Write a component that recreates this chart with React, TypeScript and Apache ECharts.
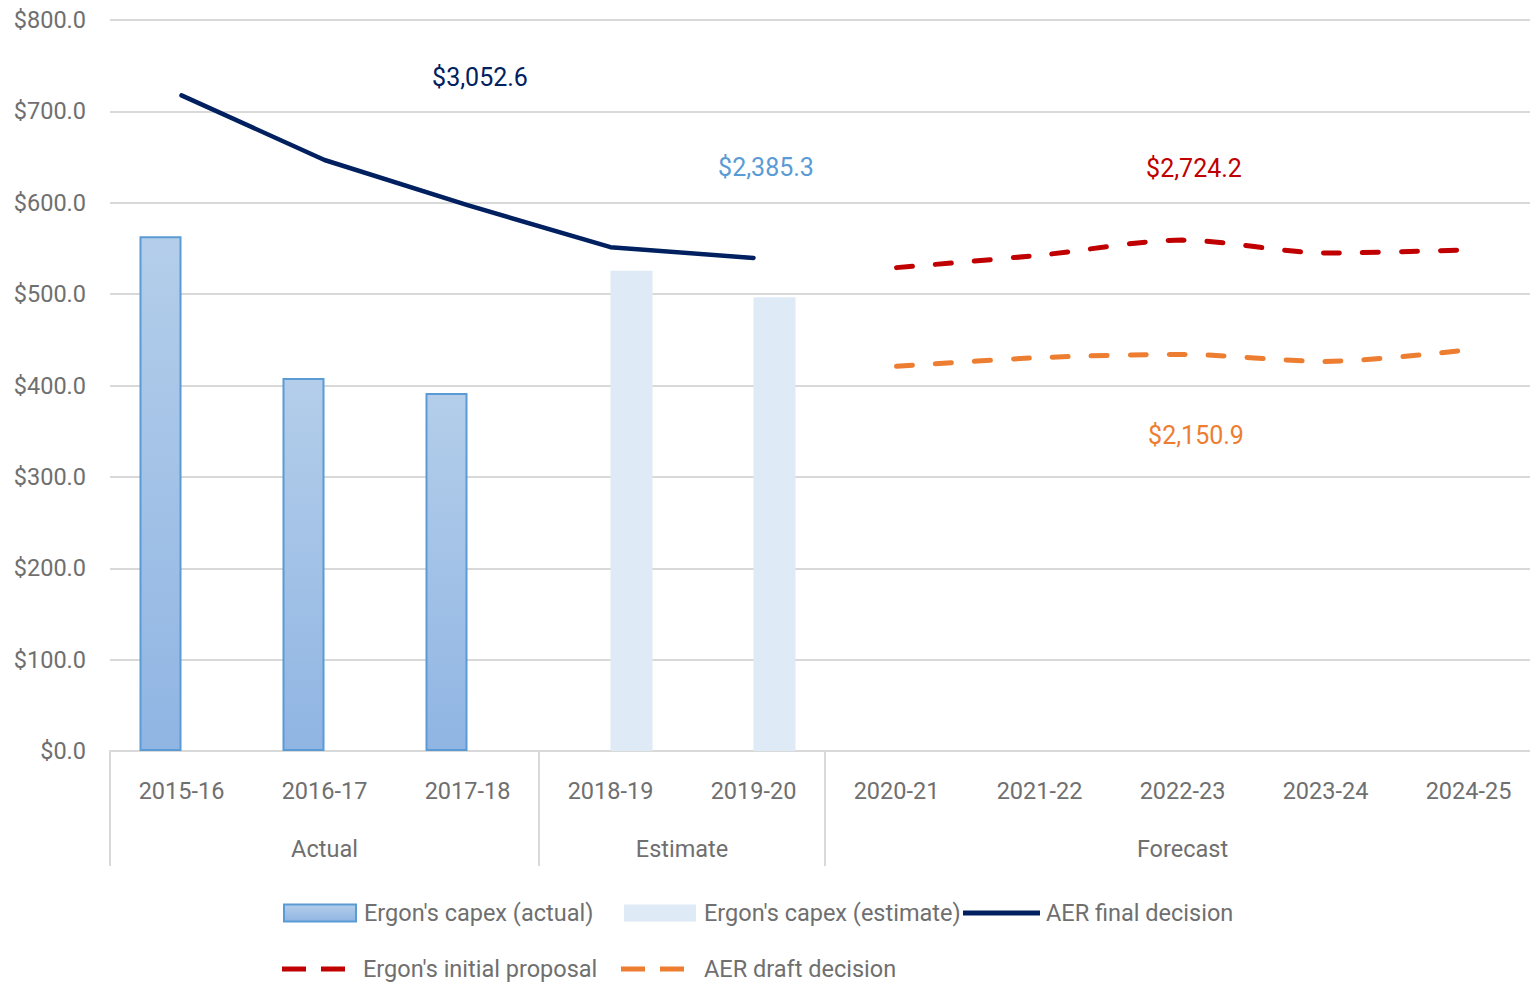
import React, { useEffect, useRef } from "react";
import * as echarts from "echarts";

const years = ["2015-16", "2016-17", "2017-18", "2018-19", "2019-20", "2020-21", "2021-22", "2022-23", "2023-24", "2024-25"];
const groupLabels: Record<string, string> = { "1.5": "Actual", "4": "Estimate", "7.5": "Forecast" };
const groupBoundaries = [0, 3, 5];
const capexActual = [563.3, 408.2, 391.7, null, null, null, null, null, null, null];
const capexEstimate = [null, null, null, 525.5, 496.6, null, null, null, null, null];
const aerFinal = [717.5, 646.8, 597.3, 551.4, 539.6, null, null, null, null, null];
const initialProposal = [null, null, null, null, null, 529.0, 542.6, 559.1, 545.0, 548.5];
const aerDraft = [null, null, null, null, null, 421.0, 430.5, 434.0, 426.4, 439.0];
const totals = { final: "$3,052.6", capex: "$2,385.3", initial: "$2,724.2", draft: "$2,150.9" };

const FONT = "Roboto, 'Noto Sans', sans-serif";
const FS = 23.5;
const GRAY = "#6f6f6f";
const GRID = "#D9D9D9";
const NAVY = "#002060";
const RED = "#C00000";
const ORANGE = "#ED7D31";

const DASH_ICON = "path://M0,0h24v5h-24z M39,0h24v5h-24z";
const SOLID_ICON = "path://M0,0h77v5h-77z";

export default function App() {
  const ref = useRef<HTMLDivElement>(null);
  useEffect(() => {
    const chart = echarts.init(ref.current!, null, { renderer: "svg" });
    const legendBase = (left: number, top: number, item: any, w: number, h: number, gap: number) => ({
      left,
      top,
      padding: 0,
      orient: "horizontal",
      itemWidth: w,
      itemHeight: h,
      data: [item],
      textStyle: { color: GRAY, fontSize: FS, fontFamily: FONT, padding: [0, 0, 0, gap], lineHeight: 30 },
      selectedMode: false,
    });
    chart.setOption({
      animation: false,
      textStyle: { fontFamily: FONT },
      grid: { left: 110, width: 1430, top: 20, bottom: 234, containLabel: false, outerBoundsMode: "none" },
      xAxis: [
        {
          type: "category",
          data: years,
          position: "bottom",
          axisLine: { show: true, lineStyle: { color: GRID, width: 2 } },
          axisTick: {
            show: true,
            length: 115,
            interval: (index: number) => groupBoundaries.includes(index),
            lineStyle: { color: GRID, width: 2 },
          },
          axisLabel: { color: GRAY, fontSize: FS, fontFamily: FONT, margin: 28, interval: 0 },
        },
        {
          type: "value",
          min: 0,
          max: 10,
          interval: 0.5,
          position: "bottom",
          offset: 58,
          axisLine: { show: false },
          axisTick: { show: false },
          splitLine: { show: false },
          axisLabel: {
            color: GRAY,
            fontSize: FS,
            fontFamily: FONT,
            margin: 28,
            showMinLabel: true,
            showMaxLabel: true,
            formatter: (v: number) => groupLabels[String(v)] || "",
          },
        },
      ],
      yAxis: {
        type: "value",
        min: 0,
        max: 800,
        interval: 100,
        axisLine: { show: false },
        axisTick: { show: false },
        splitLine: { lineStyle: { color: GRID, width: 2 } },
        axisLabel: {
          color: GRAY,
          fontSize: FS,
          fontFamily: FONT,
          margin: 24,
          formatter: (v: number) => "$" + v.toFixed(1),
        },
      },
      legend: [
        legendBase(283, 898, { name: "Ergon's capex (actual)", icon: "rect" }, 72, 17, 3),
        legendBase(624, 898, { name: "Ergon's capex (estimate)", icon: "rect" }, 72, 17, 3),
        legendBase(963, 898, { name: "AER final decision", icon: SOLID_ICON, itemStyle: { color: NAVY } }, 77, 5, 1),
        legendBase(282, 954, { name: "Ergon's initial proposal", icon: DASH_ICON, itemStyle: { color: RED } }, 63, 5, 13),
        legendBase(621, 954, { name: "AER draft decision", icon: DASH_ICON, itemStyle: { color: ORANGE } }, 63, 5, 15),
      ],
      graphic: [
        { type: "text", x: 480, y: 77, style: { text: totals.final, fill: NAVY, font: `25px ${FONT}`, textAlign: "center", textVerticalAlign: "middle" } },
        { type: "text", x: 766, y: 167, style: { text: totals.capex, fill: "#5B9BD5", font: `25px ${FONT}`, textAlign: "center", textVerticalAlign: "middle" } },
        { type: "text", x: 1194, y: 168, style: { text: totals.initial, fill: RED, font: `25px ${FONT}`, textAlign: "center", textVerticalAlign: "middle" } },
        { type: "text", x: 1196, y: 435, style: { text: totals.draft, fill: ORANGE, font: `25px ${FONT}`, textAlign: "center", textVerticalAlign: "middle" } },
      ],
      series: [
        {
          name: "Ergon's capex (actual)",
          type: "bar",
          data: capexActual,
          barWidth: 42,
          barGap: "0%",
          itemStyle: {
            color: new echarts.graphic.LinearGradient(0, 0, 0, 1, [
              { offset: 0, color: "#B4CEEA" },
              { offset: 1, color: "#90B5E3" },
            ]),
            borderColor: "#5B9BD5",
            borderWidth: 2,
          },
        },
        {
          name: "Ergon's capex (estimate)",
          type: "bar",
          data: capexEstimate,
          barWidth: 42,
          barGap: "0%",
          itemStyle: { color: "#DEEAF6" },
        },
        {
          name: "AER final decision",
          type: "line",
          data: aerFinal,
          symbol: "none",
          lineStyle: { color: NAVY, width: 4.5, cap: "round", join: "round" },
          itemStyle: { color: NAVY },
        },
        {
          name: "Ergon's initial proposal",
          type: "line",
          data: initialProposal,
          symbol: "none",
          smooth: 0.3,
          lineStyle: { color: RED, width: 5, type: [16, 23], cap: "round" },
          itemStyle: { color: RED },
        },
        {
          name: "AER draft decision",
          type: "line",
          data: aerDraft,
          symbol: "none",
          smooth: 0.3,
          lineStyle: { color: ORANGE, width: 5, type: [16, 23], cap: "round" },
          itemStyle: { color: ORANGE },
        },
      ],
    });
    return () => chart.dispose();
  }, []);
  return <div ref={ref} style={{ position: "fixed", left: 0, top: 0, width: 1530, height: 985, background: "#fff" }} />;
}
